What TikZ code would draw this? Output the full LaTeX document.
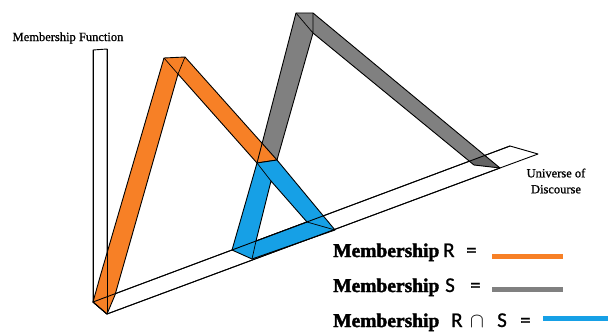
\documentclass[tikz,border=0pt]{standalone}
\usepackage{fontspec}
\setmainfont{Liberation Serif}
\newfontfamily\legsans[FakeBold=1]{Carlito}
\newfontfamily\memfont[FakeBold=2]{Liberation Serif Bold}
\newfontfamily\lblfont[FakeBold=1]{Liberation Serif}
\definecolor{rorange}{RGB}{247,128,38}
\definecolor{sgray}{RGB}{128,128,128}
\definecolor{sgraydk}{RGB}{100,100,100}
\definecolor{rsblue}{RGB}{22,160,230}
\begin{document}
\begin{tikzpicture}[x=1pt,y=-1pt,line join=round,
  edge/.style={draw=black,line width=0.9pt},
  fold/.style={draw=black,line width=0.7pt},
  smalltxt/.style={inner sep=0pt,font=\lblfont\fontsize{12.5}{16}\selectfont},
  memtxt/.style={anchor=base west,inner sep=0pt,font=\memfont\fontsize{19.5}{20}\selectfont},
  legtxt/.style={anchor=base west,inner sep=0pt,font=\legsans\fontsize{21}{21}\selectfont},
  legline/.style={line width=5pt}]
\useasboundingbox (0,0) rectangle (608,334);
% ground strip (universe of discourse)
\coordinate (BL) at (93,302);
\coordinate (FL) at (107,314);
\coordinate (BR) at (510,146);
\coordinate (TP) at (538,154);
\coordinate (FR) at (500,168);
\path[fill=white,edge] (BL) -- (BR) -- (TP) -- (FR) -- (FL) -- cycle;
% vertical bar (membership axis)
\coordinate (VT1) at (93,50);
\coordinate (VT2) at (107,49);
\path[fill=white,edge] (BL) -- (VT1) -- (VT2) -- (FL) -- cycle;
% gray triangle S
\coordinate (G1) at (257,163);
\coordinate (G2) at (296,13);
\coordinate (G3) at (313,13);
\coordinate (G4) at (500,168);
\coordinate (G5) at (474,165);
\coordinate (G6) at (313,33);
\coordinate (G7) at (277,160);
\fill[sgray] (G1) -- (G2) -- (G3) -- (G4) -- (G5) -- (G6) -- (G7) -- cycle;
\begin{scope}
  \clip (BL) -- (BR) -- (TP) -- (FR) -- (FL) -- cycle;
  \fill[sgraydk] (G1) -- (G2) -- (G3) -- (G4) -- (G5) -- (G6) -- (G7) -- cycle;
\end{scope}
% orange triangle R
\coordinate (O1) at (93,302);
\coordinate (O2) at (100,277);
\coordinate (O3) at (164,58);
\coordinate (O4) at (185,57);
\coordinate (O5) at (277,160);
\coordinate (O6) at (257,163);
\coordinate (O7) at (178,74);
\coordinate (O8) at (115,295);
\coordinate (O9) at (107,314);
\fill[rorange] (O1) -- (O2) -- (O3) -- (O4) -- (O5) -- (O6) -- (O7) -- (O8) -- (O9) -- cycle;
\path[edge] (G1) -- (G2) -- (G3) -- (G4) -- (G5) -- (G6) -- (G7);
\path[fold] (G2) -- (G6) (G3) -- (G6);
\path[edge] (O1) -- (O2) -- (O3) -- (O4) -- (O5) -- (O6) -- (O7) -- (O8) -- (O9) -- cycle;
\path[fold] (O3) -- (O7) (O4) -- (O7);
% blue triangle R cap S
\coordinate (B1) at (257,163);
\coordinate (B2) at (277,160);
\coordinate (B3) at (335,230);
\coordinate (B4) at (252,259);
\coordinate (B5) at (232,250);
\coordinate (H1) at (271,181);
\coordinate (H2) at (307,222);
\coordinate (H3) at (256,241);
\path[fill=rsblue,even odd rule,edge] (B1) -- (B2) -- (B3) -- (B4) -- (B5) -- cycle
  (H1) -- (H2) -- (H3) -- cycle;
\path[fold] (B1) -- (H1) (H3) -- (B4) (H2) -- (B3);
% axis lines on top
\path[edge] (BL) -- (BR) (FL) -- (FR) (BL) -- (FL);
\path[edge] (VT1) -- (BL) (VT2) -- (FL);
% labels
\node[smalltxt] (mf) at (68,38) {Membership Function};
\node[smalltxt,align=center] (ud) at (556,181) {Universe of\\Discourse};
% legend
\node[memtxt] (m1) at (333,257) {Membership};
\node[legtxt] (r1) at (443,257) {R};
\node[legtxt] (e1) at (466,257) {=};
\coordinate (l1a) at (492,256);
\coordinate (l1b) at (563,256);
\draw[legline,rorange] (l1a) -- (l1b);
\node[memtxt] (m2) at (333,292) {Membership};
\node[legtxt] (s2) at (445,292) {S};
\node[legtxt] (e2) at (470,292) {=};
\coordinate (l2a) at (492,289);
\coordinate (l2b) at (563,289);
\draw[legline,sgray] (l2a) -- (l2b);
\node[memtxt] (m3) at (333,327) {Membership};
\node[legtxt] (r3) at (451,327) {R};
\node[legtxt] (c3) at (470,327) {$\cap$};
\node[legtxt] (s3) at (497,327) {S};
\node[legtxt] (e3) at (520,327) {=};
\coordinate (l3a) at (543,318);
\coordinate (l3b) at (608,318);
\draw[legline,rsblue] (l3a) -- (l3b);
\end{tikzpicture}
\end{document}
